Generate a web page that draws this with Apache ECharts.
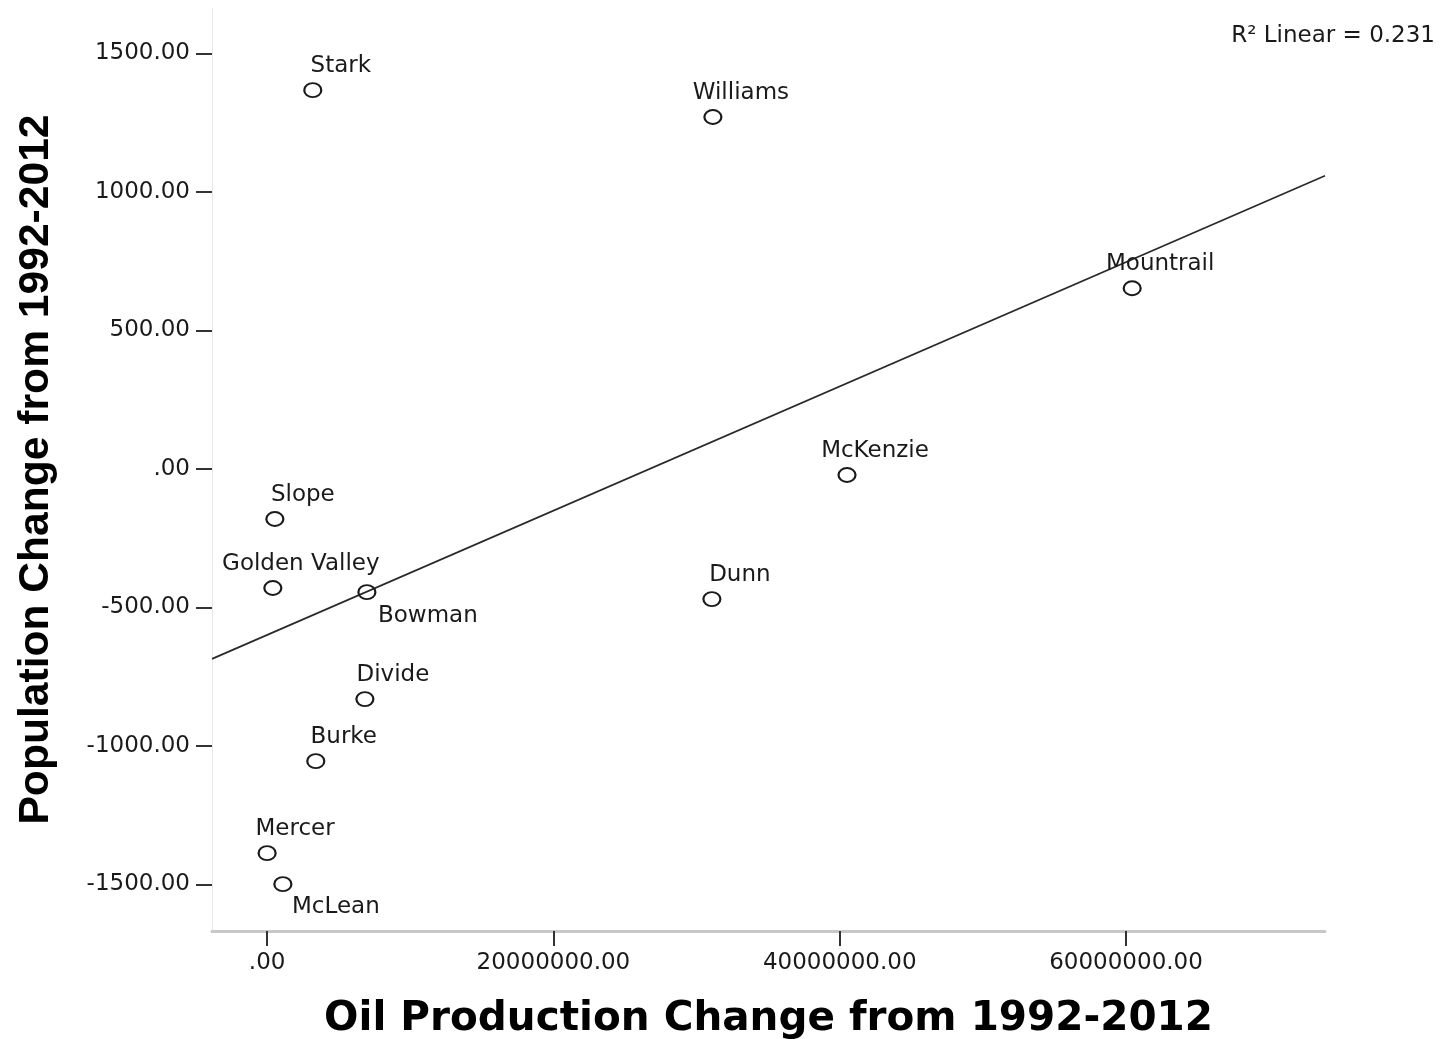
<!DOCTYPE html>
<html>
<head>
<meta charset="utf-8">
<script src="https://cdn.jsdelivr.net/npm/echarts@6/dist/echarts.min.js"></script>
<style>
html,body{margin:0;padding:0;background:#fff;}
#chart{width:1441px;height:1039px;}
</style>
</head>
<body>
<div id="chart"></div>
<script>
// ---- data ----
const counties = ['Stark','Williams','Mountrail','McKenzie','Slope','Golden Valley','Bowman','Dunn','Divide','Burke','Mercer','McLean'];
const oilChange = [3190000, 31140000, 60430000, 40510000, 540000, 400000, 6970000, 31070000, 6830000, 3400000, 0, 1100000];
const popChange = [1367, 1270, 652, -22, -181, -430, -445, -470, -831, -1055, -1387, -1499];
const xTickValues = [0, 20000000, 40000000, 60000000];
const yTickValues = [-1500, -1000, -500, 0, 500, 1000, 1500];
const fitLabel = 'R\u00B2 Linear = 0.231';
const xTitle = 'Oil Production Change from 1992-2012';
const yTitle = 'Population Change from 1992-2012';

// ---- layout / style ----
const X_MIN = -3850000, X_MAX = 73900000;
const Y_MIN = -1668, Y_MAX = 1663.5;
const labelFont = 'DejaVu Sans';
const defaultOffset = [28, -16.5];
const specialOffsets = { 'Bowman': [61, 32], 'McLean': [53, 31] };

// least-squares fit line
const n = oilChange.length;
const mx = oilChange.reduce((a, b) => a + b, 0) / n;
const my = popChange.reduce((a, b) => a + b, 0) / n;
let sxy = 0, sxx = 0;
for (let i = 0; i < n; i++) {
  sxy += (oilChange[i] - mx) * (popChange[i] - my);
  sxx += (oilChange[i] - mx) * (oilChange[i] - mx);
}
const slope = sxy / sxx;
const intercept = my - slope * mx;
const fitData = [[X_MIN, intercept + slope * X_MIN], [X_MAX, intercept + slope * X_MAX]];

const pointData = counties.map((name, i) => ({
  name: name,
  value: [oilChange[i], popChange[i]],
  label: { offset: specialOffsets[name] || defaultOffset }
}));

const fmt = v => (v === 0 ? '.00' : v.toFixed(2));

const chart = echarts.init(document.getElementById('chart'), null, { renderer: 'canvas' });
chart.setOption({
  animation: false,
  backgroundColor: '#ffffff',
  title: {
    text: fitLabel,
    right: 6,
    top: 22,
    padding: 0,
    textStyle: { fontFamily: labelFont, fontSize: 23, fontWeight: 'normal', color: '#1a1a1a', lineHeight: 28 }
  },
  grid: { left: 212, right: 116, top: 8, bottom: 108, containLabel: false, outerBoundsMode: 'none' },
  xAxis: {
    type: 'value',
    min: X_MIN,
    max: X_MAX,
    name: xTitle,
    nameLocation: 'middle',
    nameGap: 68,
    nameTextStyle: { fontFamily: 'DejaVu Sans', fontWeight: 'bold', fontSize: 40.5, color: '#000' },
    axisLine: { show: true, onZero: false, lineStyle: { color: '#c8c8c8', width: 3 } },
    axisTick: { show: true, length: 15, customValues: xTickValues, lineStyle: { color: '#333', width: 2 } },
    axisLabel: { show: true, customValues: xTickValues, margin: 21, formatter: fmt, fontFamily: labelFont, fontSize: 23, color: '#1a1a1a' },
    splitLine: { show: false }
  },
  yAxis: {
    type: 'value',
    min: Y_MIN,
    max: Y_MAX,
    name: yTitle,
    nameLocation: 'middle',
    nameGap: 154,
    nameTextStyle: { fontFamily: 'Liberation Sans', fontWeight: 'bold', fontSize: 42.6, color: '#000' },
    axisLine: { show: true, onZero: false, lineStyle: { color: '#e8e8e8', width: 1 } },
    axisTick: { show: true, length: 16, customValues: yTickValues, lineStyle: { color: '#333', width: 2 } },
    axisLabel: { show: true, customValues: yTickValues, margin: 22, formatter: fmt, fontFamily: labelFont, fontSize: 23, color: '#1a1a1a' },
    splitLine: { show: false }
  },
  series: [
    {
      type: 'line',
      data: fitData,
      symbol: 'none',
      silent: true,
      lineStyle: { color: '#2a2a2a', width: 1.7 },
      z: 1
    },
    {
      type: 'scatter',
      data: pointData,
      symbol: 'circle',
      symbolSize: [17, 14],
      itemStyle: { color: 'rgba(255,255,255,0)', borderColor: '#1a1a1a', borderWidth: 2, opacity: 1 },
      label: {
        show: true,
        position: 'top',
        distance: 0,
        formatter: p => p.name,
        align: 'center',
        verticalAlign: 'middle',
        fontFamily: labelFont,
        fontSize: 23,
        color: '#1a1a1a',
        textBorderWidth: 0
      },
      emphasis: { disabled: true },
      z: 2
    }
  ]
});
</script>
</body>
</html>
